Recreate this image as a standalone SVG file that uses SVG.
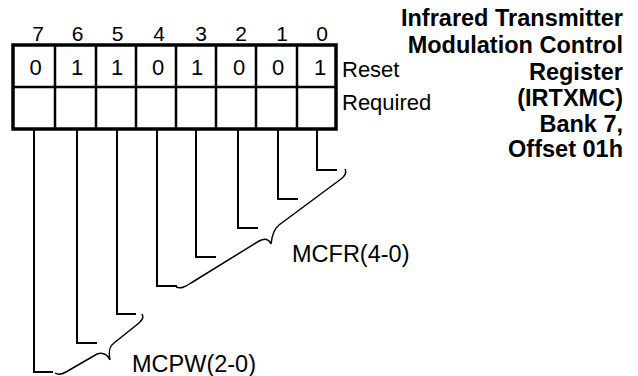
<svg xmlns="http://www.w3.org/2000/svg" width="638" height="376" viewBox="0 0 638 376">
<style>
  .t{font-family:"Liberation Sans",Arial,sans-serif;fill:#000}
  .bit{font-size:21px;text-anchor:middle}
  .val{font-size:22px;text-anchor:middle}
  .lbl{font-size:22px}
  .fld{font-size:23.5px}
  .title{font-size:23.5px;font-weight:bold;text-anchor:end}
  .box{fill:#fff;stroke:#000;stroke-width:3.5}
  .div{stroke:#000;stroke-width:2.5;fill:none}
  .con{stroke:#000;stroke-width:2;fill:none}
  .brace{stroke:#000;stroke-width:1.5;fill:none}
</style>
<rect width="638" height="376" fill="#fff"/>
<g id="title">
  <text class="t title" x="623" y="26">Infrared Transmitter</text>
  <text class="t title" x="623" y="53">Modulation Control</text>
  <text class="t title" x="623" y="80">Register</text>
  <text class="t title" x="623" y="106">(IRTXMC)</text>
  <text class="t title" x="623" y="132">Bank 7,</text>
  <text class="t title" x="623" y="157">Offset 01h</text>
</g>
<g id="register">
  <rect class="box" x="13" y="45" width="323" height="84"/>
  <path class="div" d="M13,87H336M55,45V129M96,45V129M136,45V129M176,45V129M216,45V129M256,45V129M297,45V129"/>
  <g id="bitnums">
    <text class="t bit" x="38" y="41">7</text>
    <text class="t bit" x="77.5" y="41">6</text>
    <text class="t bit" x="117.5" y="41">5</text>
    <text class="t bit" x="159" y="41">4</text>
    <text class="t bit" x="201" y="41">3</text>
    <text class="t bit" x="241" y="41">2</text>
    <text class="t bit" x="282" y="41">1</text>
    <text class="t bit" x="322" y="41">0</text>
  </g>
  <g id="resetvals">
    <text class="t val" x="35.5" y="75">0</text>
    <text class="t val" x="77" y="75">1</text>
    <text class="t val" x="117" y="75">1</text>
    <text class="t val" x="158" y="75">0</text>
    <text class="t val" x="197" y="75">1</text>
    <text class="t val" x="239" y="75">0</text>
    <text class="t val" x="278" y="75">0</text>
    <text class="t val" x="320" y="75">1</text>
  </g>
  <text class="t lbl" x="342" y="77">Reset</text>
  <text class="t lbl" x="342" y="110">Required</text>
</g>
<g id="connectors">
  <path class="con" d="M34,129V372H53"/>
  <path class="con" d="M77,129V343H97"/>
  <path class="con" d="M117,129V314H136"/>
  <path class="con" d="M157,129V286H177"/>
  <path class="con" d="M196,129V257H216"/>
  <path class="con" d="M238,129V228H258"/>
  <path class="con" d="M278,129V199H298"/>
  <path class="con" d="M317,129V170H337"/>
</g>
<g id="mcfr">
  <path class="brace" d="M345,169C347,173 345,176 341,179L279,225C274,229 272,235 271,244C269,239 265,238 259,241L191,283C185,287 181,289 176,287"/>
  <text class="t fld" x="292" y="262">MCFR(4-0)</text>
</g>
<g id="mcpw">
  <path class="brace" d="M142,314C144,318 142,320 139,323L114,343C110,346 108,350 110,360C107,354 103,352 97,354L66,372C61,375 58,375 55,373"/>
  <text class="t fld" x="132" y="372">MCPW(2-0)</text>
</g>
</svg>
